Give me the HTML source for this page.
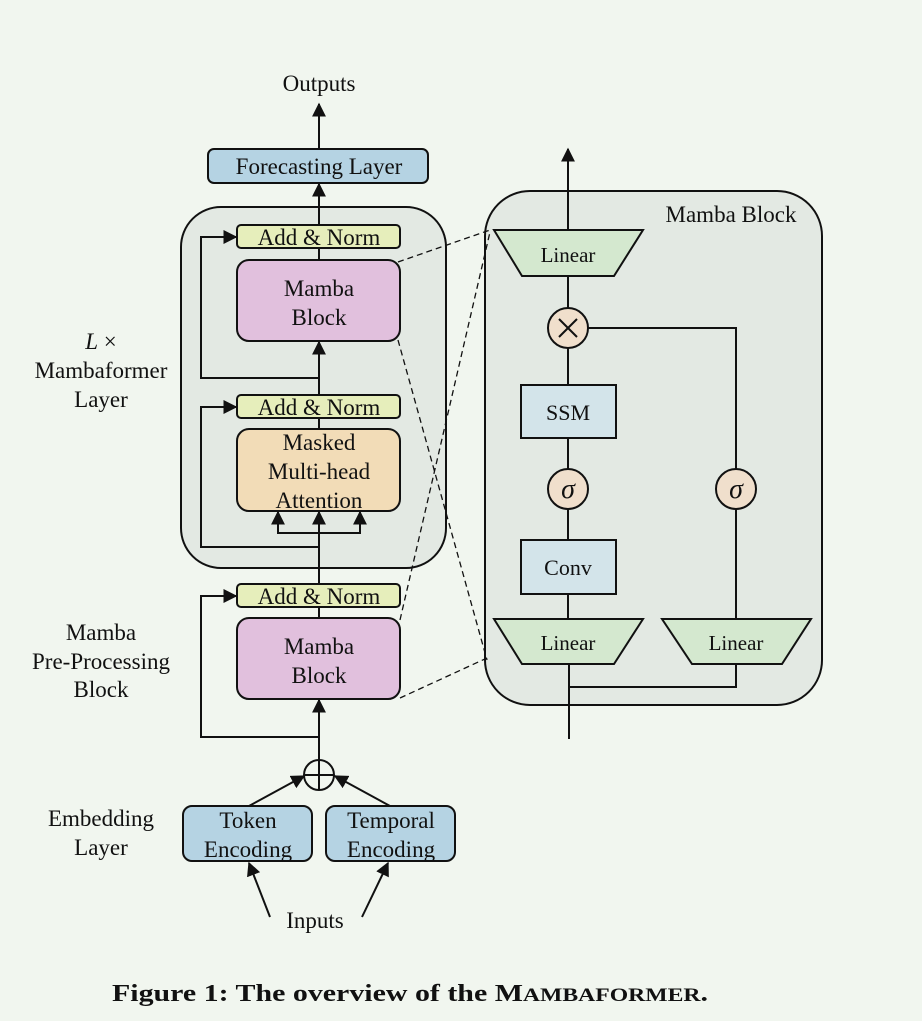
<!DOCTYPE html>
<html><head><meta charset="utf-8"><style>
html,body{margin:0;padding:0;background:#f1f6ef;}
svg{display:block;}
text{font-family:"Liberation Serif",serif;fill:#111;}
</style></head><body>
<svg width="922" height="1021" viewBox="0 0 922 1021" xmlns="http://www.w3.org/2000/svg">
<defs>
<marker id="a" viewBox="0 0 10 10" refX="9" refY="5" markerWidth="7" markerHeight="7" orient="auto-start-reverse"><path d="M0,0 L10,5 L0,10 z" fill="#111"/></marker>
</defs>
<rect width="922" height="1021" fill="#f1f6ef"/>
<g stroke="#111" stroke-width="2" fill="none">
<line x1="319" y1="149" x2="319" y2="104" marker-end="url(#a)"/>
<rect x="181" y="207" width="265" height="361" rx="40" fill="#e3e9e3"/>
<rect x="208" y="149" width="220" height="34" rx="6" fill="#b5d3e3"/>
<line x1="319" y1="225" x2="319" y2="184" marker-end="url(#a)"/>
<polyline points="319,378 201,378 201,237 236,237" marker-end="url(#a)"/>
<line x1="319" y1="395" x2="319" y2="342" marker-end="url(#a)"/>
<line x1="319" y1="248" x2="319" y2="260"/>
<rect x="237" y="225" width="163" height="23" rx="4" fill="#e6eebb"/>
<rect x="237" y="260" width="163" height="81" rx="12" fill="#e1c0dd"/>
<polyline points="319,547 201,547 201,407 236,407" marker-end="url(#a)"/>
<line x1="319" y1="418" x2="319" y2="429"/>
<rect x="237" y="395" width="163" height="23" rx="4" fill="#e6eebb"/>
<rect x="237" y="429" width="163" height="82" rx="12" fill="#f2dcb7"/>
<line x1="319" y1="584" x2="319" y2="512" marker-end="url(#a)"/>
<polyline points="278,512 278,533 360,533 360,512"/>
<line x1="278" y1="533" x2="278" y2="512" marker-end="url(#a)"/>
<line x1="360" y1="533" x2="360" y2="512" marker-end="url(#a)"/>
<polyline points="319,737 201,737 201,596 236,596" marker-end="url(#a)"/>
<line x1="319" y1="607" x2="319" y2="618"/>
<rect x="237" y="584" width="163" height="23" rx="4" fill="#e6eebb"/>
<rect x="237" y="618" width="163" height="81" rx="12" fill="#e1c0dd"/>
<line x1="319" y1="760" x2="319" y2="700" marker-end="url(#a)"/>
<circle cx="319" cy="775" r="15"/>
<line x1="304" y1="775" x2="334" y2="775"/><line x1="319" y1="760" x2="319" y2="790"/>
<line x1="249" y1="806" x2="304" y2="776" marker-end="url(#a)"/>
<line x1="390" y1="806" x2="335" y2="776" marker-end="url(#a)"/>
<rect x="183" y="806" width="129" height="55" rx="9" fill="#b5d3e3"/>
<rect x="326" y="806" width="129" height="55" rx="9" fill="#b5d3e3"/>
<line x1="270" y1="917" x2="249" y2="863" marker-end="url(#a)"/>
<line x1="362" y1="917" x2="388" y2="863" marker-end="url(#a)"/>
<!-- right box -->
<rect x="485" y="191" width="337" height="514" rx="45" fill="#e3e9e3"/>
<line x1="568" y1="230" x2="568" y2="149" marker-end="url(#a)"/>
<line x1="568" y1="276" x2="568" y2="308"/>
<polyline points="588,328 736,328 736,469"/>
<line x1="568" y1="348" x2="568" y2="385"/>
<line x1="568" y1="438" x2="568" y2="469"/>
<line x1="568" y1="509" x2="568" y2="540"/>
<line x1="568" y1="594" x2="568" y2="619"/>
<line x1="736" y1="509" x2="736" y2="619"/>
<line x1="569" y1="664" x2="569" y2="739"/>
<polyline points="736,664 736,687 569,687"/>
<polygon points="494,230 643,230 614,276 522,276" fill="#d4e8cf"/>
<circle cx="568" cy="328" r="20" fill="#f0dfcc"/>
<rect x="521" y="385" width="95" height="53" fill="#d3e4ea"/>
<circle cx="568" cy="489" r="20" fill="#f0dfcc"/>
<circle cx="736" cy="489" r="20" fill="#f0dfcc"/>
<rect x="521" y="540" width="95" height="54" fill="#d3e4ea"/>
<polygon points="494,619 643,619 614,664 522,664" fill="#d4e8cf"/>
<polygon points="662,619 811,619 782,664 692,664" fill="#d4e8cf"/>
<line x1="559" y1="319" x2="577" y2="337"/><line x1="577" y1="319" x2="559" y2="337"/>
</g>
<g stroke="#111" stroke-width="1.3" stroke-dasharray="6,4" fill="none">
<line x1="398" y1="262" x2="490" y2="230"/>
<line x1="398" y1="340" x2="487" y2="660"/>
<line x1="400" y1="620" x2="490" y2="232"/>
<line x1="400" y1="698" x2="487" y2="658"/>
</g>
<g font-size="23" text-anchor="middle">
<text x="319" y="91">Outputs</text>
<text x="319" y="174">Forecasting Layer</text>
<text x="319" y="245">Add &amp; Norm</text>
<text x="319" y="296">Mamba</text>
<text x="319" y="325">Block</text>
<text x="319" y="415">Add &amp; Norm</text>
<text x="319" y="450">Masked</text>
<text x="319" y="479">Multi-head</text>
<text x="319" y="508">Attention</text>
<text x="319" y="604">Add &amp; Norm</text>
<text x="319" y="654">Mamba</text>
<text x="319" y="683">Block</text>
<text x="248" y="828">Token</text>
<text x="248" y="857">Encoding</text>
<text x="391" y="828">Temporal</text>
<text x="391" y="857">Encoding</text>
<text x="315" y="928">Inputs</text>
<text x="101" y="349"><tspan font-style="italic">L</tspan> ×</text>
<text x="101" y="378">Mambaformer</text>
<text x="101" y="407">Layer</text>
<text x="101" y="640">Mamba</text>
<text x="101" y="669">Pre-Processing</text>
<text x="101" y="697">Block</text>
<text x="101" y="826">Embedding</text>
<text x="101" y="855">Layer</text>
<text x="731" y="222">Mamba Block</text>
<text x="568" y="262" font-size="21">Linear</text>
<text x="568" y="420" font-size="22">SSM</text>
<text x="568" y="575" font-size="22">Conv</text>
<text x="568" y="650" font-size="21">Linear</text>
<text x="736" y="650" font-size="21">Linear</text>
<text x="568" y="498" font-size="28" font-style="italic">σ</text>
<text x="736" y="498" font-size="28" font-style="italic">σ</text>
</g>
<text x="112" y="1001" font-size="24" font-weight="bold" textLength="596" lengthAdjust="spacingAndGlyphs">Figure 1: The overview of the M<tspan font-size="19">AMBAFORMER</tspan>.</text>
</svg>
</body></html>
